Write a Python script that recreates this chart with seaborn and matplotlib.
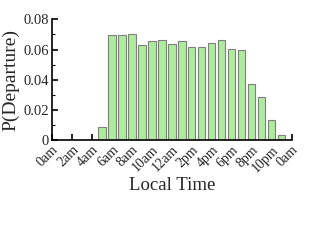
import numpy as np
import pandas as pd
import matplotlib
matplotlib.use("Agg")
import matplotlib.pyplot as plt
from matplotlib.ticker import MultipleLocator
import seaborn as sns

hours = list(range(24))
p_departure = [0.0004, 0.0003, 0.0001, 0.0001, 0.0, 0.0088,
               0.0696, 0.0696, 0.0703, 0.0630, 0.0657, 0.0661,
               0.0637, 0.0657, 0.0617, 0.0615, 0.0643, 0.0665,
               0.0602, 0.0595, 0.0372, 0.0284, 0.0132, 0.0035]
tick_hours = list(range(0, 25, 2))
tick_labels = ["0am", "2am", "4am", "6am", "8am", "10am", "12am",
               "2pm", "4pm", "6pm", "8pm", "10pm", "0am"]

sns.set_style("ticks")
plt.rcParams["font.family"] = ["Liberation Serif", "DejaVu Serif"]

df = pd.DataFrame({"hour": hours, "p": p_departure})

fig = plt.figure(figsize=(3.14, 2.43), dpi=100)
ax = fig.add_axes([0.165, 0.4226, 0.764, 0.498])

sns.barplot(data=df, x="hour", y="p", native_scale=True, ax=ax,
            color="#aeeb9e", saturation=1, width=0.75,
            edgecolor="#7f7f7f", linewidth=0.8)

ax.set_xlim(0, 24)
ax.set_ylim(0, 0.08)
ax.set_xticks(tick_hours)
ax.set_xticklabels(tick_labels, rotation=45, ha="right", rotation_mode="anchor",
                   fontsize=10)
ax.set_yticks([0, 0.02, 0.04, 0.06, 0.08])
ax.set_yticklabels(["0", "0.02", "0.04", "0.06", "0.08"], fontsize=10.5)
ax.yaxis.set_minor_locator(MultipleLocator(0.01))
ax.tick_params(axis="both", which="both", direction="in", color="black")
ax.tick_params(axis="both", which="major", length=4, width=1.2, pad=2)
ax.tick_params(axis="y", which="minor", length=2, width=0.8)
for side in ["top", "right"]:
    ax.spines[side].set_visible(False)
for side in ["left", "bottom"]:
    ax.spines[side].set_linewidth(1.2)
    ax.spines[side].set_color("black")

ax.set_xlabel("Local Time", fontsize=13.5, labelpad=2)
ax.set_ylabel("P(Departure)", fontsize=14, labelpad=3)

fig.savefig("out.png", dpi=100)
